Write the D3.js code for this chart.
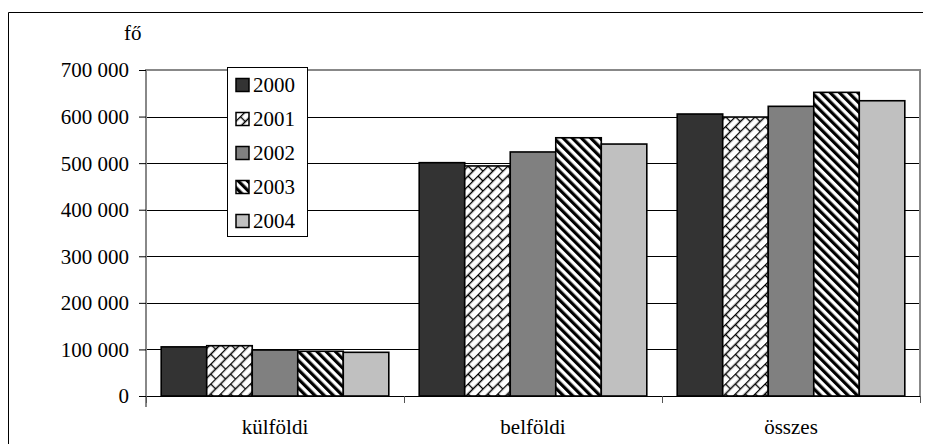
<!DOCTYPE html>
<html><head><meta charset="utf-8">
<script src="https://cdn.jsdelivr.net/npm/d3@7"></script>
<style>body{margin:0;background:#fff}svg{display:block}</style>
</head><body><svg id="c" width="927" height="444"></svg>
<script>
const categories = ["külföldi", "belföldi", "összes"];
const years = ["2000", "2001", "2002", "2003", "2004"];
const v2000 = [105500, 501000, 605500];
const v2001 = [108000, 494000, 599000];
const v2002 = [98800, 524000, 622000];
const v2003 = [96000, 554500, 652000];
const v2004 = [93800, 541000, 634000];
const yTicks = [0, 100000, 200000, 300000, 400000, 500000, 600000, 700000];
const yUnit = "fő";
const series = [v2000, v2001, v2002, v2003, v2004];
const FONT = "Times New Roman, Times, Liberation Serif, DejaVu Serif, serif";

const svg = d3.select("#c");
const defs = svg.append("defs");
const p1 = defs.append("pattern").attr("id","p2001").attr("patternUnits","userSpaceOnUse")
  .attr("width",14).attr("height",14).attr("patternTransform","rotate(-45)");
p1.append("rect").attr("width",14).attr("height",14).attr("fill","#fff");
p1.append("path").attr("d","M0,0.5H14M0,7.5H14M3.5,0.5V7.5M10.5,7.5V14.5").attr("stroke","#000").attr("stroke-width",1.3).attr("fill","none");
const p3 = defs.append("pattern").attr("id","p2003").attr("patternUnits","userSpaceOnUse")
  .attr("width",6.5).attr("height",10).attr("patternTransform","rotate(-45)");
p3.append("rect").attr("width",6.5).attr("height",10).attr("fill","#fff");
p3.append("rect").attr("width",3.2).attr("height",10).attr("fill","#000");
const fills = ["#333333","url(#p2001)","#808080","url(#p2003)","#c0c0c0"];

svg.append("path").attr("d","M8.5,460V12.5H923").attr("stroke","#000").attr("fill","none").attr("stroke-width",1);

const L=146, R=920, T=70, B=396;
const x = d3.scaleBand().domain(categories).range([L,R]);
const y = d3.scaleLinear().domain([0,700000]).range([B,T]);
const pad = 15.2;
const xs = d3.scaleBand().domain(years).range([0, x.bandwidth()-2*pad]);

svg.append("g").selectAll("line").data(yTicks.filter(d=>d>0 && d<700000)).join("line")
  .attr("x1",L).attr("x2",R).attr("y1",d=>Math.round(y(d))+0.5).attr("y2",d=>Math.round(y(d))+0.5)
  .attr("stroke","#000").attr("stroke-width",1);

svg.append("path").attr("d",`M${L},${T}H${R}V${B}`).attr("stroke","#888").attr("stroke-width",2).attr("fill","none");

const g = svg.append("g");
categories.forEach((c,ci)=>{
  years.forEach((yr,si)=>{
    const v = series[si][ci];
    g.append("rect").attr("x",x(c)+pad+xs(yr)).attr("y",y(v)).attr("width",xs.bandwidth()).attr("height",B-y(v))
      .attr("fill",fills[si]).attr("stroke","#000").attr("stroke-width",1.6);
  });
});

const yAxis = d3.axisLeft(y).tickValues(yTicks).tickSize(7).tickPadding(10)
  .tickFormat(d=>d3.format(",")(d).replace(/,/g," "));
const ya = svg.append("g").attr("transform",`translate(${L},0)`).call(yAxis).attr("font-family",FONT).attr("font-size",21);
ya.select(".domain").attr("stroke","#888").attr("stroke-width",2).attr("d",`M0,${T-1}V${B+11}`);
ya.selectAll(".tick line").attr("stroke","#000");
ya.selectAll(".tick text").attr("dy","0.33em");

const xa = svg.append("g").attr("transform",`translate(0,${B})`).attr("font-family",FONT).attr("font-size",21);
xa.append("line").attr("x1",L).attr("x2",R).attr("y1",0.5).attr("y2",0.5).attr("stroke","#000");
xa.selectAll("line.t").data([L, ...categories.map(c=>x(c)+x.bandwidth())]).join("line").attr("class","t")
  .attr("x1",d=>d+0.5).attr("x2",d=>d+0.5).attr("y1",0).attr("y2",7).attr("stroke","#555");
xa.selectAll("text").data(categories).join("text").attr("x",d=>x(d)+x.bandwidth()/2).attr("y",38)
  .attr("text-anchor","middle").text(d=>d);

svg.append("text").attr("x",124).attr("y",40).attr("font-family",FONT).attr("font-size",21).text(yUnit);

const lg = svg.append("g").attr("font-family",FONT).attr("font-size",21);
lg.append("rect").attr("x",227.5).attr("y",67.5).attr("width",80).attr("height",169).attr("fill","#fff").attr("stroke","#000");
years.forEach((yr,i)=>{
  const cy = 85 + i*34;
  lg.append("rect").attr("x",236).attr("y",cy-6.5).attr("width",13).attr("height",13).attr("fill",fills[i]).attr("stroke","#000").attr("stroke-width",1.5);
  lg.append("text").attr("x",253).attr("y",cy+7).text(yr);
});
</script></body></html>
